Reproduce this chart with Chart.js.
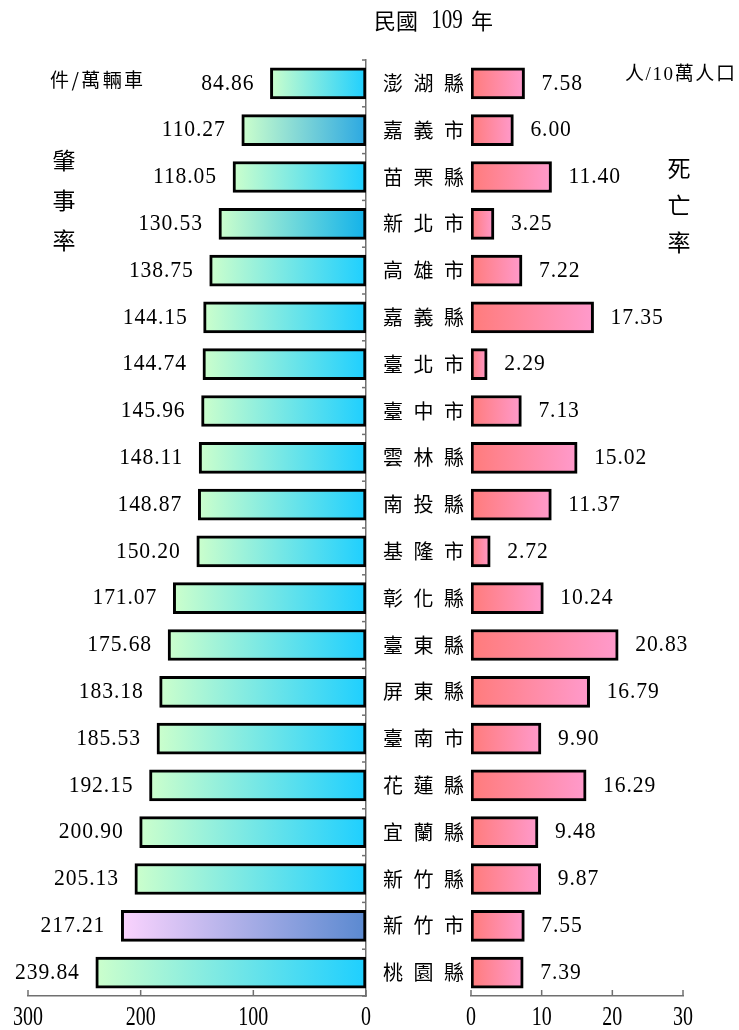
<!DOCTYPE html>
<html>
<head>
<meta charset="utf-8">
<script src="https://cdn.jsdelivr.net/npm/chart.js@4"></script>
<style>
  body { margin: 0; background: #fff; }
  #wrap { position: relative; width: 739px; height: 1030px; }
  canvas { position: absolute; left: 0; top: 0; }
</style>
</head>
<body>
<div id="wrap">
  <canvas id="chrtIzq" width="739" height="1030"></canvas>
  <canvas id="chrtDer" width="739" height="1030"></canvas>
</div>
<script>
(function(){

// ---- datos (民國 109 年)
const regiones = ["澎湖縣","嘉義市","苗栗縣","新北市","高雄市","嘉義縣","臺北市","臺中市","雲林縣","南投縣",
                  "基隆市","彰化縣","臺東縣","屏東縣","臺南市","花蓮縣","宜蘭縣","新竹縣","新竹市","桃園縣"];
const arrAccidente = [84.86,110.27,118.05,130.53,138.75,144.15,144.74,145.96,148.11,148.87,
                      150.20,171.07,175.68,183.18,185.53,192.15,200.90,205.13,217.21,239.84];
const arrMuerte = [7.58,6.00,11.40,3.25,7.22,17.35,2.29,7.13,15.02,11.37,
                   2.72,10.24,20.83,16.79,9.90,16.29,9.48,9.87,7.55,7.39];
const ticksIzq = [0,100,200,300];
const ticksDer = [0,10,20,30];

const SERIF = "'Liberation Serif', 'Noto Sans CJK TC', serif";
const CJK = "'Noto Sans CJK TC', sans-serif";

// colores de los degradados (inicio = punta de la barra, fin = eje)
const colIzq = regiones.map(() => ["#ccffcc", "#1ecfff"]);
colIzq[1] = ["#ccffcc", "#2ba8e2"];
colIzq[3] = ["#ccffcc", "#12b2ea"];
colIzq[18] = ["#fbd3fe", "#5a89d0"];

function txt(ctx, s, x, y, size, align, sx, family, esp){
    ctx.save();
    ctx.font = size + "px " + family;
    ctx.fillStyle = "#000";
    ctx.textBaseline = "middle";
    ctx.textAlign = align;
    if (esp) ctx.letterSpacing = esp + "px";
    ctx.translate(x, y);
    ctx.scale(sx, 1);
    ctx.fillText(s, 0, 0);
    ctx.restore();
}

function degradado(c, izq){
    if (c.type !== "data") return "#ccc";
    const chart = c.chart;
    const sx = chart.scales.x;
    if (!sx) return izq ? "#1ecfff" : "#ff7b7b";
    const x0 = sx.getPixelForValue(0);
    const x1 = sx.getPixelForValue(c.raw);
    if (!isFinite(x0) || !isFinite(x1)) return izq ? "#1ecfff" : "#ff7b7b";
    const g = chart.ctx.createLinearGradient(x1, 0, x0, 0);
    if (izq) {
        g.addColorStop(0, colIzq[c.dataIndex][0]);
        g.addColorStop(1, colIzq[c.dataIndex][1]);
    } else {
        g.addColorStop(0, "#ff9acc");
        g.addColorStop(1, "#ff7b7b");
    }
    return g;
}

// marcas del eje x hacia arriba + etiquetas
function ejeX(chart, valores){
    const ctx = chart.ctx;
    const sx = chart.scales.x;
    const yb = chart.chartArea.bottom;
    ctx.save();
    ctx.strokeStyle = "#707070";
    ctx.lineWidth = 1.5;
    valores.forEach(v => {
        const px = sx.getPixelForValue(v);
        ctx.beginPath();
        ctx.moveTo(px, yb);
        ctx.lineTo(px, yb - 6);
        ctx.stroke();
        txt(ctx, String(v), px, yb + 22, 27, "center", 0.74, SERIF);
    });
    ctx.restore();
}

const pluginIzq = {
    id: "textosIzq",
    afterDraw(chart){
        const ctx = chart.ctx;
        const meta = chart.getDatasetMeta(0);
        meta.data.forEach((el, i) => {
            txt(ctx, arrAccidente[i].toFixed(2), el.x - 16, el.y, 24, "right", 0.9, SERIF, 1);
        });
        ejeX(chart, ticksIzq);

        // marcas del eje de categorias
        const sy = chart.scales.y;
        const xr = chart.chartArea.right;
        const paso = (sy.bottom - sy.top) / regiones.length;
        ctx.save();
        ctx.strokeStyle = "#707070";
        ctx.lineWidth = 1.5;
        for (let i = 0; i <= regiones.length; i++) {
            const py = sy.top + i * paso;
            ctx.beginPath();
            ctx.moveTo(xr, py);
            ctx.lineTo(xr - 4, py);
            ctx.stroke();
        }
        ctx.restore();

        // titulo y rotulos
        txt(ctx, "民國", 396, 21, 22, "center", 1, CJK);
        txt(ctx, "109", 447, 21, 27, "center", 0.78, SERIF);
        txt(ctx, "年", 482, 21, 22, "center", 1, CJK);
        txt(ctx, "件/萬輛車", 50, 80, 19, "left", 1, CJK, 2.4);
        ["肇","事","率"].forEach((c, k) => txt(ctx, c, 64, 160 + k * 40, 23, "center", 1, CJK));
    }
};

const pluginDer = {
    id: "textosDer",
    afterDraw(chart){
        const ctx = chart.ctx;
        const meta = chart.getDatasetMeta(0);
        meta.data.forEach((el, i) => {
            txt(ctx, arrMuerte[i].toFixed(2), el.x + 17, el.y, 24, "left", 0.9, SERIF, 1);
            const chars = regiones[i].split("");
            chars.forEach((c, k) => txt(ctx, c, 393 + k * 30.5, el.y, 20, "center", 1, CJK));
        });
        ejeX(chart, ticksDer);

        txt(ctx, "人/10萬人口", 625, 75, 19, "left", 1, SERIF, 1.6);
        ["死","亡","率"].forEach((c, k) => txt(ctx, c, 679, 168 + k * 37, 23, "center", 1, CJK));
    }
};

function opciones(izq){
    return {
        indexAxis: "y",
        animation: false,
        responsive: false,
        maintainAspectRatio: false,
        layout: { padding: izq ? { left: 28, right: 739 - 366, top: 60, bottom: 0 }
                               : { left: 471, right: 739 - 683, top: 60, bottom: 0 } },
        plugins: { legend: { display: false }, tooltip: { enabled: false } },
        scales: {
            x: {
                min: 0, max: izq ? 300 : 30, reverse: izq,
                ticks: { display: false, stepSize: izq ? 100 : 10 },
                grid: { display: false, drawTicks: false },
                border: { display: true, color: "#707070", width: 1.5 },
                afterFit: s => { s.height = 34; }
            },
            y: {
                position: izq ? "right" : "left",
                ticks: { display: false },
                grid: { display: false, drawTicks: false },
                border: { display: izq, color: "#707070", width: 1.5 },
                afterFit: s => { s.width = 0; }
            }
        }
    };
}

new Chart(document.querySelector("#chrtIzq"), {
    type: "bar",
    data: {
        labels: regiones,
        datasets: [{
            data: arrAccidente,
            backgroundColor: c => degradado(c, true),
            borderColor: "#000",
            borderWidth: 3,
            borderSkipped: false,
            barThickness: 31
        }]
    },
    options: opciones(true),
    plugins: [pluginIzq]
});

new Chart(document.querySelector("#chrtDer"), {
    type: "bar",
    data: {
        labels: regiones,
        datasets: [{
            data: arrMuerte,
            backgroundColor: c => degradado(c, false),
            borderColor: "#000",
            borderWidth: 3,
            borderSkipped: false,
            barThickness: 31
        }]
    },
    options: opciones(false),
    plugins: [pluginDer]
});

})();
</script>
</body>
</html>
